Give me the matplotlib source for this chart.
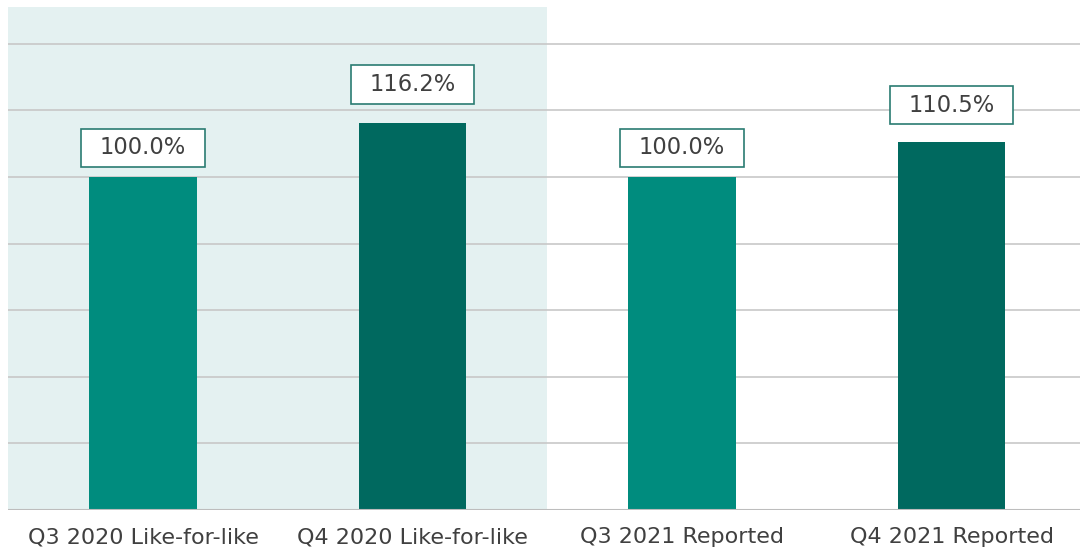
import matplotlib
matplotlib.use("Agg")
import matplotlib.pyplot as plt
from matplotlib.path import Path

categories = ["Q3 2020 Like-for-like", "Q4 2020 Like-for-like", "Q3 2021 Reported", "Q4 2021 Reported"]
values = [100.0, 116.2, 100.0, 110.5]
labels = ["100.0%", "116.2%", "100.0%", "110.5%"]
label_offsets = [8.75, 11.5, 8.75, 11.0]
bar_colors = ["#008C7E", "#00695F", "#008C7E", "#00695F"]
yticks = [0, 20, 40, 60, 80, 100, 120, 140]

plt.rcParams['font.family'] = ['DejaVu Sans']

fig = plt.figure(figsize=(10.8, 5.5), dpi=100)
ax = fig.add_axes([8.25/1080, 40/550, 1078/1080, (510 - 7)/550])

ax.axvspan(-0.5, 1.5, color="#E4F1F1", zorder=0, lw=0)
for t in yticks[1:]:
    ax.axhline(t, color="#C8C8C8", lw=1.2, zorder=1)
ax.axhline(0, color="#BDBDBD", lw=1.5, zorder=3)

x = list(range(len(categories)))
ax.bar(x, values, width=0.4, color=bar_colors, zorder=2)

def rect_box(x0, y0, width, height, mutation_size):
    px = 0.82 * mutation_size
    py = 0.34 * mutation_size
    x0 -= px; y0 -= py
    x1 = x0 + width + 2 * px
    y1 = y0 + height + 2 * py
    return Path([(x0, y0), (x1, y0), (x1, y1), (x0, y1), (x0, y0)], closed=True)

for xi, v, lab, off in zip(x, values, labels, label_offsets):
    ax.text(xi, v + off, lab, ha="center", va="center", fontsize=16.3, color="#404040",
            bbox=dict(boxstyle=rect_box, fc="white", ec="#2A7C72", lw=1.2), zorder=4)

ax.set_xlim(-0.5, 3.5)
ax.set_ylim(0, 151)
ax.set_xticks(x)
ax.set_xticklabels(categories, fontsize=16, color="#404040")
ax.set_yticks([])
ax.tick_params(axis="x", length=0, pad=12.5)
for s in ax.spines.values():
    s.set_visible(False)

fig.savefig("out.png", dpi=100)
